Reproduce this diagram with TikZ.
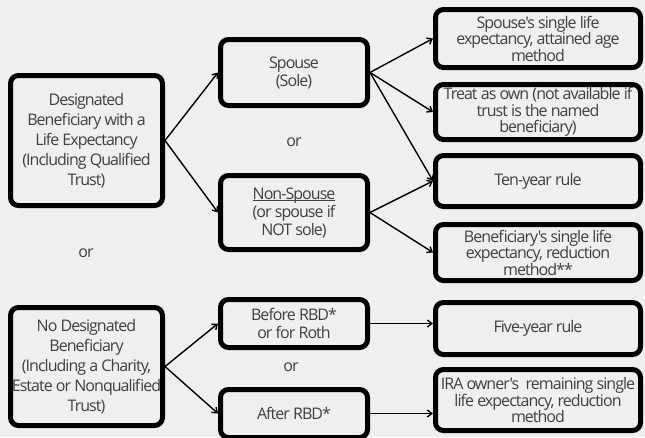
\documentclass[tikz,border=0pt]{standalone}
\usepackage{fontspec}
\setmainfont{Open Sans}[LetterSpace=-6,Ligatures=TeXOff]
\usetikzlibrary{arrows.meta}
\definecolor{bgc}{HTML}{EEF0EF}
\definecolor{txt}{HTML}{404040}
\newcommand\myul[1]{\setbox0=\hbox{#1}\rlap{\rule[-2.2pt]{\wd0}{0.8pt}}\box0}
\begin{document}
\begin{tikzpicture}[x=1pt,y=-1pt,
  bx/.style={draw=black, line width=5pt, rounded corners=8pt, fill=bgc, align=center,
    text=txt, inner sep=0pt, font=\fontsize{16}{20}\selectfont},
  lb/.style={bx, minimum width=152pt},
  md/.style={bx, minimum width=147pt, font=\fontsize{16}{18}\selectfont},
  rt/.style={bx, minimum width=205pt, font=\fontsize{16}{16.5}\selectfont},
  orl/.style={text=txt, font=\fontsize{16}{18}\selectfont},
  arr/.style={line width=1.4pt, -{Straight Barb[length=4.5pt,width=7pt]}}]
\clip (0,0) rectangle (645,437);
\fill[bgc] (0,0) rectangle (645,437);

\node[lb, minimum height=130pt] (A) at (86.5,140.5) {Designated\\Beneficiary with a\\Life Expectancy\\(Including Qualified\\Trust)};
\node[lb, minimum height=118pt] (B) at (86.5,366.5) {No Designated\\Beneficiary\\(Including a Charity,\\Estate or Nonqualified\\Trust)};

\node[md, minimum height=66pt] (S) at (294,72.5) {Spouse\\(Sole)};
\node[md, minimum height=74pt] (N) at (294,212.5) {\myul{Non-Spouse}\\(or spouse if\\NOT sole)};
\node[md, minimum height=48pt] (BR) at (294,323.5) {Before RBD*\\or for Roth};
\node[md, minimum height=48pt] (AR) at (294,413.5) {After RBD*};

\node[rt, minimum height=58pt] (R1) at (538,38.5) {Spouse's single life\\expectancy, attained age\\method};
\node[rt, minimum height=55pt] (R2) at (538,112) {Treat as own (not available if\\trust is the named\\beneficiary)};
\node[rt, minimum height=51pt] (R3) at (538,181) {Ten-year rule};
\node[rt, minimum height=56pt] (R4) at (538,252.5) {Beneficiary's single life\\expectancy, reduction\\method**};
\node[rt, minimum height=52pt] (R5) at (538,328.5) {Five-year rule};
\node[rt, minimum height=61pt] (R6) at (538,400) {IRA owner's\ \ remaining single\\life expectancy, reduction\\method};

\node[orl] (o1) at (294,142) {or};
\node[orl] (o2) at (86,253) {or};
\node[orl] (o3) at (291,367) {or};

\draw[arr] (A.east) -- (S.west);
\draw[arr] (A.east) -- (N.west);
\draw[arr] (B.east) -- (BR.west);
\draw[arr] (B.east) -- (AR.west);
\draw[arr] (S.east) -- (R1.west);
\draw[arr] (S.east) -- (R2.west);
\draw[arr] (S.east) -- (R3.west);
\draw[arr] (N.east) -- (R3.west);
\draw[arr] (N.east) -- (R4.west);
\draw[arr] (BR.east) -- (BR.east -| R5.west);
\draw[arr] (AR.east) -- (AR.east -| R6.west);
\end{tikzpicture}
\end{document}
